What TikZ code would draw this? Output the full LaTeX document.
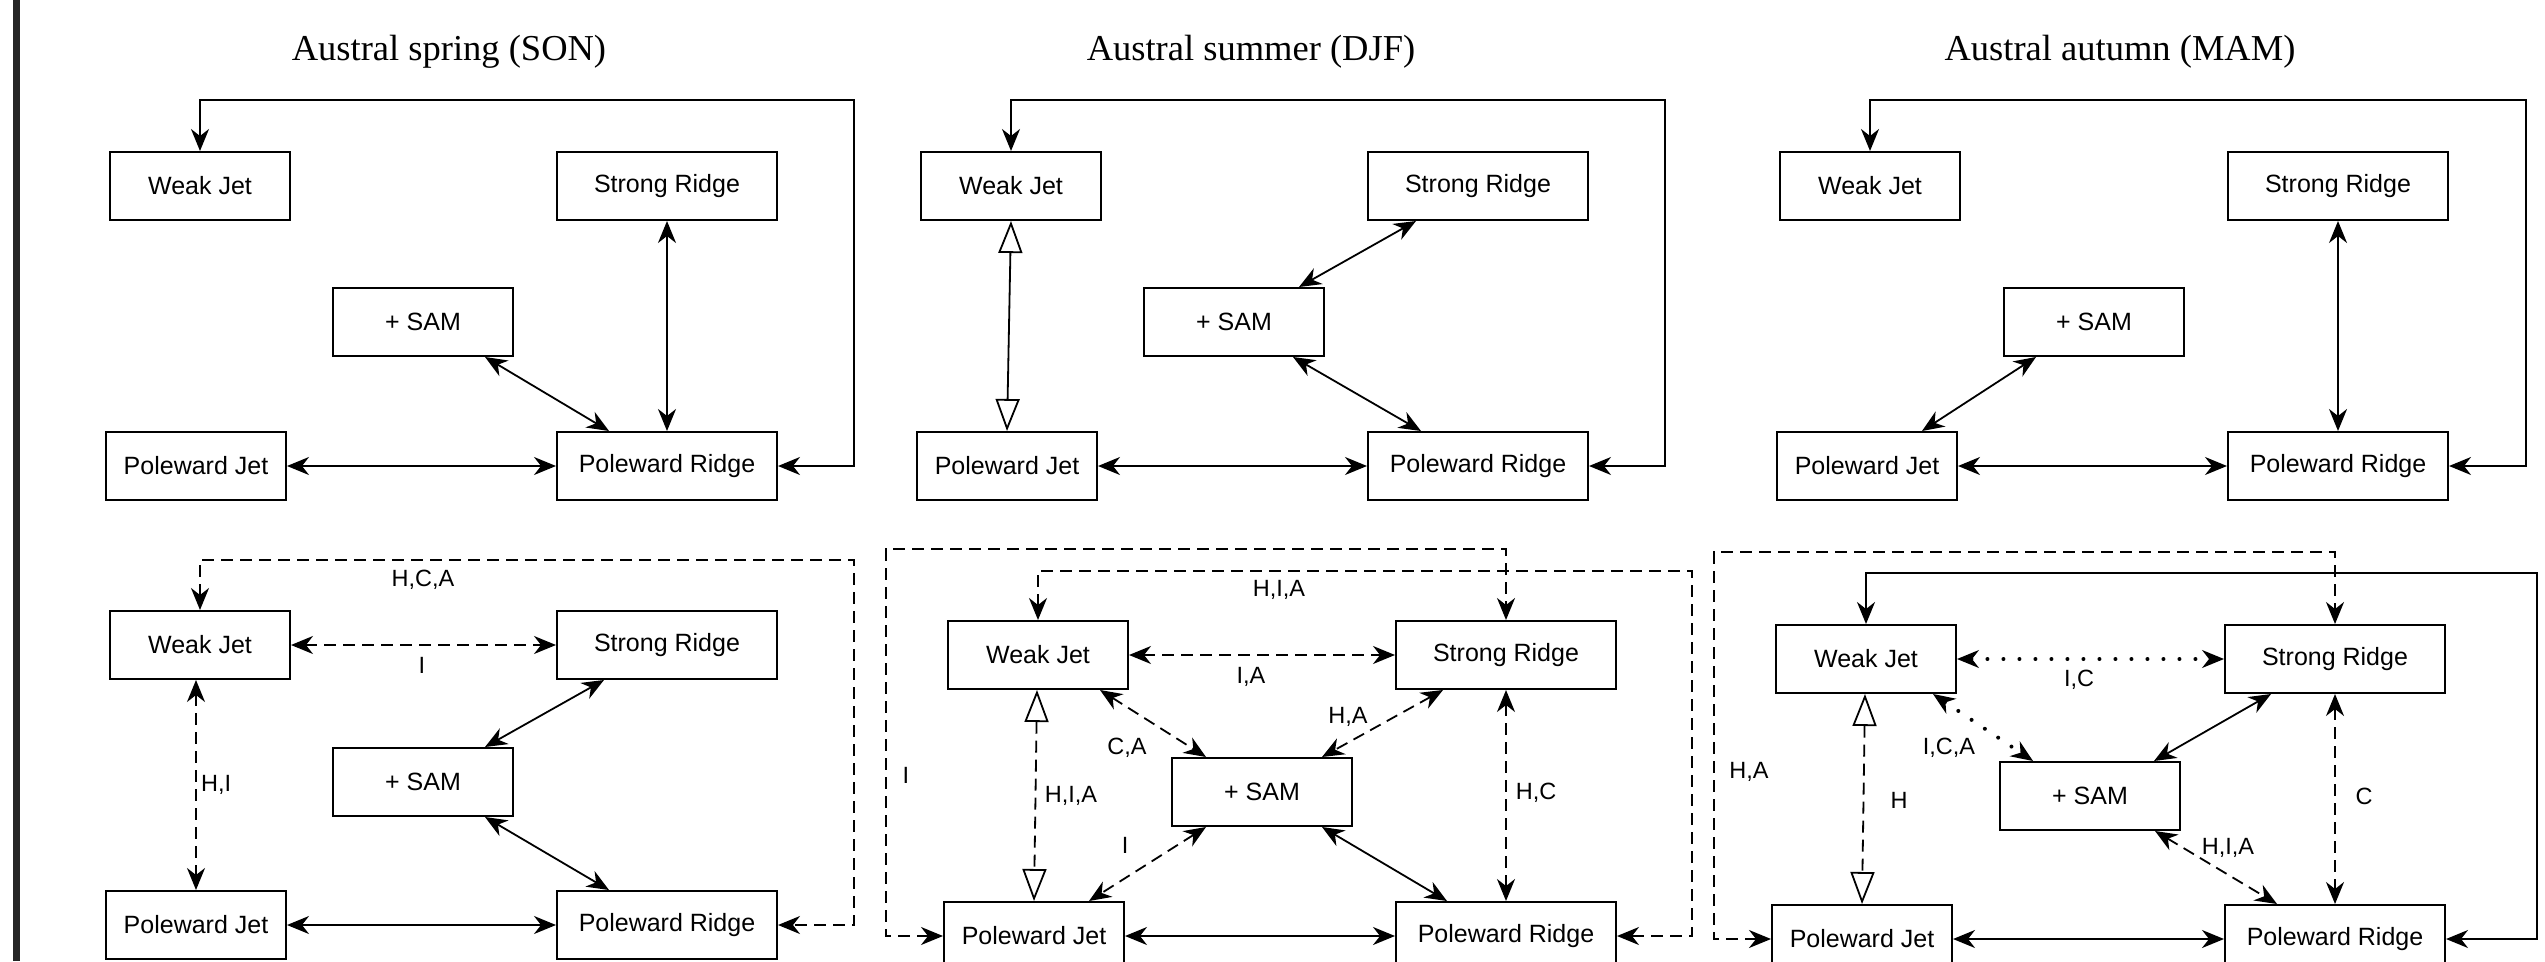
\documentclass[tikz,border=0pt]{standalone}
\usepackage{fontspec}
\setmainfont{Liberation Sans}
\newfontfamily\ttlfont{Liberation Serif}
\usetikzlibrary{arrows.meta}
\begin{document}
\begin{tikzpicture}[x=1pt,y=-1pt,
  >={Stealth[length=22pt,width=18pt,inset=7pt]},
  bx/.style={draw, line width=2pt, minimum height=68pt, inner sep=0pt, font=\fontsize{25}{30}\selectfont},
  wb/.style={bx, minimum width=180pt},
  wr/.style={bx, minimum width=220pt},
  ttl/.style={font=\ttlfont\fontsize{36.5}{44}\selectfont},
  lab/.style={font=\fontsize{23.5}{28}\selectfont, inner sep=0pt},
  con/.style={line width=1.8pt},
  dsh/.style={con, dash pattern=on 12pt off 7pt},
  dts/.style={line width=4pt, line cap=round, dash pattern=on 0pt off 16pt,
    arrows={Stealth[length=22pt,width=18pt,inset=7pt,line width=1.5pt]-Stealth[length=22pt,width=18pt,inset=7pt,line width=1.5pt]}},
  opn/.style={arrows={Triangle[length=32pt,width=24pt,fill=white]-Triangle[length=32pt,width=24pt,fill=white]}}
]
\path[use as bounding box] (0,0) rectangle (2545,961);
\fill[black!85] (13,0) rectangle (20,961);

% ---------- Panel A top ----------
\node[ttl] (tA) at (449,52) {Austral spring (SON)};
\node[wb] (A1wj) at (200,186) {Weak Jet};
\node[wr] (A1sr) at (667,186) {Strong Ridge};
\node[wb] (A1sam) at (423,322) {+ SAM};
\node[wb] (A1pj) at (196,466) {Poleward Jet};
\node[wr] (A1pr) at (667,466) {Poleward Ridge};
\coordinate (A1k) at (854,100);
\draw[con,<->] (A1wj.north) |- (A1k) |- (A1pr.east);
\draw[con,<->] (A1sr.south) -- (A1pr.north);
\draw[con,<->] ([xshift=62pt]A1sam.south) -- ([xshift=-58pt]A1pr.north);
\draw[con,<->] (A1pj.east) -- (A1pr.west);

% ---------- Panel B top ----------
\node[ttl] (tB) at (1251,52) {Austral summer (DJF)};
\node[wb] (B1wj) at (1011,186) {Weak Jet};
\node[wr] (B1sr) at (1478,186) {Strong Ridge};
\node[wb] (B1sam) at (1234,322) {+ SAM};
\node[wb] (B1pj) at (1007,466) {Poleward Jet};
\node[wr] (B1pr) at (1478,466) {Poleward Ridge};
\coordinate (B1k) at (1665,100);
\draw[con,<->] (B1wj.north) |- (B1k) |- (B1pr.east);
\draw[con,opn] (B1wj.south) -- (B1pj.north);
\draw[con,<->] ([xshift=-62pt]B1sr.south) -- ([xshift=65pt]B1sam.north);
\draw[con,<->] ([xshift=59pt]B1sam.south) -- ([xshift=-57pt]B1pr.north);
\draw[con,<->] (B1pj.east) -- (B1pr.west);

% ---------- Panel C top ----------
\node[ttl] (tC) at (2120,52) {Austral autumn (MAM)};
\node[wb] (C1wj) at (1870,186) {Weak Jet};
\node[wr] (C1sr) at (2338,186) {Strong Ridge};
\node[wb] (C1sam) at (2094,322) {+ SAM};
\node[wb] (C1pj) at (1867,466) {Poleward Jet};
\node[wr] (C1pr) at (2338,466) {Poleward Ridge};
\coordinate (C1k) at (2526,100);
\draw[con,<->] (C1wj.north) |- (C1k) |- (C1pr.east);
\draw[con,<->] (C1sr.south) -- (C1pr.north);
\draw[con,<->] ([xshift=-58pt]C1sam.south) -- ([xshift=55pt]C1pj.north);
\draw[con,<->] (C1pj.east) -- (C1pr.west);

% ---------- Panel A bottom ----------
\node[wb] (A2wj) at (200,645) {Weak Jet};
\node[wr] (A2sr) at (667,645) {Strong Ridge};
\node[wb] (A2sam) at (423,782) {+ SAM};
\node[wb] (A2pj) at (196,925) {Poleward Jet};
\node[wr] (A2pr) at (667,925) {Poleward Ridge};
\coordinate (A2k) at (854,560);
\draw[dsh,<->] (A2wj.north) |- (A2k) |- (A2pr.east);
\node[lab] (A2l1) at (423,580) {H,C,A};
\draw[dsh,<->] (A2wj.east) -- (A2sr.west);
\node[lab] (A2l2) at (422,665) {I};
\draw[con,<->] ([xshift=-63pt]A2sr.south) -- ([xshift=62pt]A2sam.north);
\draw[dsh,<->] ([xshift=-4pt]A2wj.south) -- (A2pj.north);
\node[lab,anchor=west] (A2l3) at (201,785) {H,I};
\draw[con,<->] ([xshift=62pt]A2sam.south) -- ([xshift=-58pt]A2pr.north);
\draw[con,<->] (A2pj.east) -- (A2pr.west);

% ---------- Panel B bottom ----------
\node[wb] (B2wj) at (1038,655) {Weak Jet};
\node[wr] (B2sr) at (1506,655) {Strong Ridge};
\node[wb] (B2sam) at (1262,792) {+ SAM};
\node[wb] (B2pj) at (1034,936) {Poleward Jet};
\node[wr] (B2pr) at (1506,936) {Poleward Ridge};
\coordinate (B2k1) at (886,549);
\coordinate (B2k2) at (1692,571);
\draw[dsh,<->] (B2pj.west) -| (B2k1) -| (B2sr.north);
\node[lab] (B2l1) at (906,775) {I};
\draw[dsh,<->] (B2wj.north) |- (B2k2) |- (B2pr.east);
\node[lab] (B2l2) at (1279,590) {H,I,A};
\draw[dsh,<->] (B2wj.east) -- (B2sr.west);
\node[lab] (B2l3) at (1251,677) {I,A};
\draw[dsh,<->] ([xshift=62pt]B2wj.south) -- ([xshift=-56pt]B2sam.north);
\node[lab] (B2l4) at (1127,748) {C,A};
\draw[dsh,<->] ([xshift=-63pt]B2sr.south) -- ([xshift=60pt]B2sam.north);
\node[lab] (B2l5) at (1348,717) {H,A};
\draw[dsh,opn] ([xshift=-1pt]B2wj.south) -- (B2pj.north);
\node[lab] (B2l6) at (1071,796) {H,I,A};
\draw[dsh,<->] (B2sr.south) -- (B2pr.north);
\node[lab] (B2l7) at (1536,793) {H,C};
\draw[dsh,<->] ([xshift=-56pt]B2sam.south) -- ([xshift=55pt]B2pj.north);
\node[lab] (B2l8) at (1125,845) {I};
\draw[con,<->] ([xshift=60pt]B2sam.south) -- ([xshift=-59pt]B2pr.north);
\draw[con,<->] (B2pj.east) -- (B2pr.west);

% ---------- Panel C bottom ----------
\node[wb] (C2wj) at (1866,659) {Weak Jet};
\node[wr] (C2sr) at (2335,659) {Strong Ridge};
\node[wb] (C2sam) at (2090,796) {+ SAM};
\node[wb] (C2pj) at (1862,939) {Poleward Jet};
\node[wr] (C2pr) at (2335,939) {Poleward Ridge};
\coordinate (C2k1) at (1714,552);
\coordinate (C2k2) at (2537,573);
\draw[dsh,<->] (C2pj.west) -| (C2k1) -| (C2sr.north);
\node[lab] (C2l1) at (1749,772) {H,A};
\draw[con,<->] (C2wj.north) |- (C2k2) |- (C2pr.east);
\draw[dts] (C2wj.east) -- (C2sr.west);
\node[lab] (C2l2) at (2079,680) {I,C};
\draw[dts] ([xshift=67pt]C2wj.south) -- ([xshift=-57pt]C2sam.north);
\node[lab] (C2l3) at (1949,748) {I,C,A};
\draw[con,<->] ([xshift=-64pt]C2sr.south) -- ([xshift=64pt]C2sam.north);
\draw[dsh,opn] ([xshift=-1pt]C2wj.south) -- (C2pj.north);
\node[lab] (C2l4) at (1899,800) {H};
\draw[dsh,<->] (C2sr.south) -- (C2pr.north);
\node[lab] (C2l5) at (2364,796) {C};
\draw[dsh,<->] ([xshift=65pt]C2sam.south) -- ([xshift=-58pt]C2pr.north);
\node[lab] (C2l6) at (2228,848) {H,I,A};
\draw[con,<->] (C2pj.east) -- (C2pr.west);
\end{tikzpicture}
\end{document}
